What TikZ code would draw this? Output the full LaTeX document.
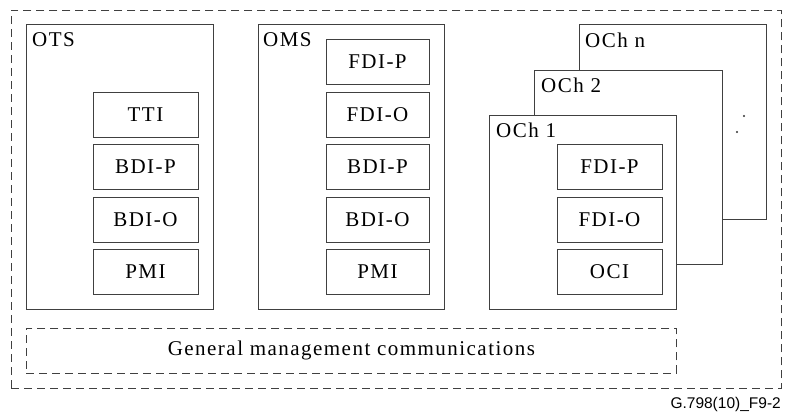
\documentclass[tikz,border=0pt]{standalone}
\usepackage{fontspec}
\setmainfont[LetterSpace=7]{Liberation Serif}
\newfontfamily\figfont{Liberation Sans}
\tikzset{
  every node/.style={font=\fontsize{21}{25}\selectfont},
  ln/.style={draw=black!75,line width=0.8pt},
  layerbox/.style={ln,fill=white,inner sep=0pt,anchor=north west,minimum width=187pt},
  infobox/.style={ln,fill=white,inner sep=0pt,minimum width=105pt,minimum height=45pt},
  tag/.style={anchor=north west,inner sep=0pt},
  dashbox/.style={ln,dash pattern=on 8pt off 5pt,inner sep=0pt,anchor=north west}
}
\begin{document}
\begin{tikzpicture}[x=1pt,y=-1pt]
\useasboundingbox (0,0) rectangle (788,414);
% overall frame
\node[dashbox,minimum width=770pt,minimum height=378pt] (ne) at (11,10) {};
% OTS
\node[layerbox,minimum height=285pt] (ots) at (26,24) {};
\node[tag] (otsname) at ([xshift=6pt,yshift=-8pt]ots.north west) {OTS};
\node[infobox] (otstti) at (145.5,114.5) {TTI};
\node[infobox] (otsbdip) at (145.5,166.5) {BDI-P};
\node[infobox] (otsbdio) at (145.5,219.5) {BDI-O};
\node[infobox] (otspmi) at (145.5,271.5) {PMI};
% OMS
\node[layerbox,minimum width=186pt,minimum height=285pt] (oms) at (258,24) {};
\node[tag] (omsname) at ([xshift=5pt,yshift=-8pt]oms.north west) {OMS};
\node[infobox,minimum width=103pt] (omsfdip) at (377.5,61.5) {FDI-P};
\node[infobox,minimum width=103pt] (omsfdio) at (377.5,114.5) {FDI-O};
\node[infobox,minimum width=103pt] (omsbdip) at (377.5,166.5) {BDI-P};
\node[infobox,minimum width=103pt] (omsbdio) at (377.5,219.5) {BDI-O};
\node[infobox,minimum width=103pt] (omspmi) at (377.5,271.5) {PMI};
% OCh stack
\node[layerbox,minimum height=195pt] (ochn) at (579,24) {};
\node[tag] (ochnname) at ([xshift=6pt,yshift=-9pt]ochn.north west) {OCh n};
\fill[black!80] (744,116) circle (1.2pt) (737,132) circle (1.2pt);
\node[layerbox,minimum width=188pt,minimum height=194pt] (och2) at (534,70) {};
\node[tag] (och2name) at ([xshift=7pt,yshift=-8pt]och2.north west) {OCh 2};
\node[layerbox,minimum height=194pt] (och1) at (489,115) {};
\node[tag] (och1name) at ([xshift=7pt,yshift=-8pt]och1.north west) {OCh 1};
\node[infobox] (ochfdip) at (609.5,166.5) {FDI-P};
\node[infobox] (ochfdio) at (609.5,219.5) {FDI-O};
\node[infobox] (ochoci) at (609.5,271.5) {OCI};
% communications
\node[dashbox,minimum width=650pt,minimum height=45pt] (gmc) at (26,328) {};
\node (gmctext) at (gmc.center) {General management communications};
\node[anchor=base east,inner sep=0pt,font=\figfont\fontsize{15.5}{18}\selectfont] (figno) at (781,409) {G.798(10)\_F9-2};
\end{tikzpicture}
\end{document}
